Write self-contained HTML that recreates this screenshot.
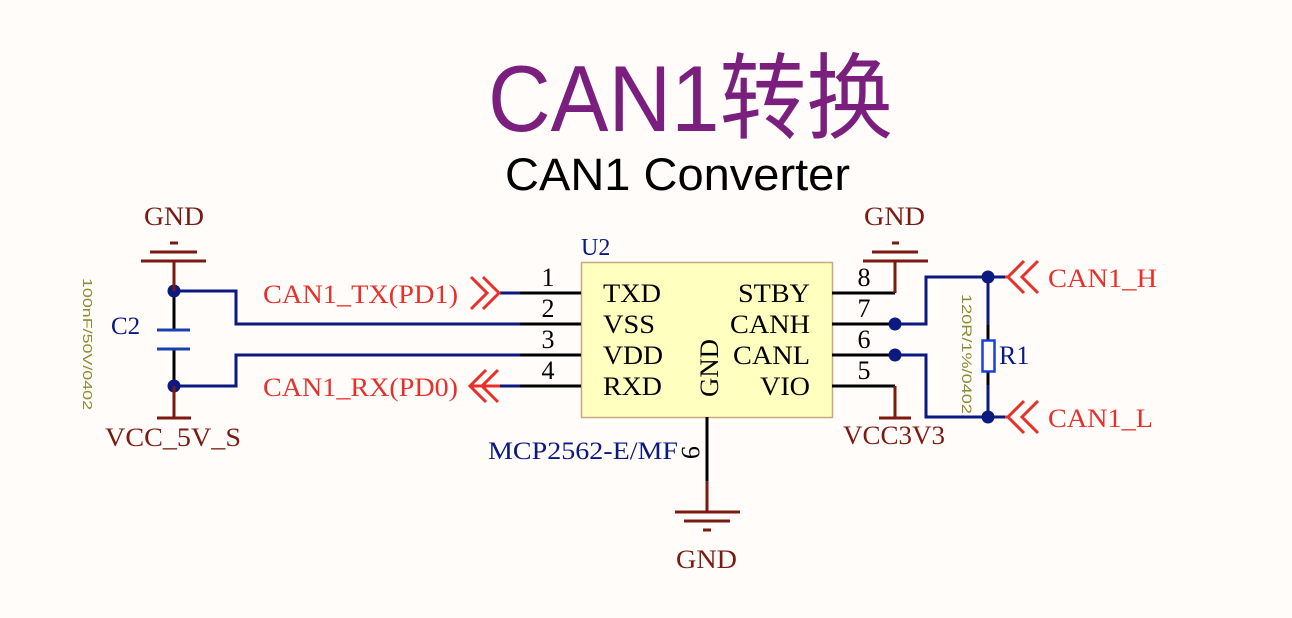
<!DOCTYPE html>
<html><head><meta charset="utf-8"><style>
html,body{margin:0;padding:0;background:#fffcf9;}
svg{display:block;}
.s{font-family:"Liberation Serif",serif;}
</style></head><body>
<svg width="1292" height="618" viewBox="0 0 1292 618" xmlns="http://www.w3.org/2000/svg">
<rect width="1292" height="618" fill="#fffcf9"/>
<text x="488" y="131" font-family="Liberation Sans,'Noto Sans CJK SC',sans-serif" font-size="94" fill="#7a1f7e" textLength="405" lengthAdjust="spacingAndGlyphs">CAN1转换</text>
<text x="505" y="190" font-family="Liberation Sans,sans-serif" font-size="45" fill="#000" textLength="345" lengthAdjust="spacingAndGlyphs">CAN1 Converter</text>

<rect x="581.5" y="262.5" width="251" height="155" fill="#ffffc0" stroke="#c9a87a" stroke-width="1.5"/>
<text x="581" y="255" class="s" fill="#0a1a80" font-size="24">U2</text>
<g class="s" fill="#000" font-size="26">
<text x="603" y="302" textLength="58" lengthAdjust="spacingAndGlyphs">TXD</text><text x="603" y="333" textLength="52" lengthAdjust="spacingAndGlyphs">VSS</text><text x="603" y="364" textLength="60" lengthAdjust="spacingAndGlyphs">VDD</text><text x="603" y="395" textLength="59" lengthAdjust="spacingAndGlyphs">RXD</text>
<text x="738" y="302" textLength="72" lengthAdjust="spacingAndGlyphs">STBY</text><text x="730" y="333" textLength="80" lengthAdjust="spacingAndGlyphs">CANH</text><text x="733" y="364" textLength="77" lengthAdjust="spacingAndGlyphs">CANL</text><text x="760" y="395" textLength="50" lengthAdjust="spacingAndGlyphs">VIO</text>
<text transform="translate(718,397) rotate(-90)" textLength="58" lengthAdjust="spacingAndGlyphs">GND</text>
<text x="548" y="286" text-anchor="middle">1</text><text x="548" y="317" text-anchor="middle">2</text><text x="548" y="348" text-anchor="middle">3</text><text x="548" y="379" text-anchor="middle">4</text>
<text x="864" y="286" text-anchor="middle">8</text><text x="864" y="317" text-anchor="middle">7</text><text x="864" y="348" text-anchor="middle">6</text><text x="864" y="379" text-anchor="middle">5</text>
<text transform="translate(682,446) rotate(90)">9</text>
</g>
<text x="488" y="459" class="s" fill="#0a1a80" font-size="25" textLength="190" lengthAdjust="spacingAndGlyphs">MCP2562-E/MF</text>

<g stroke="#000" stroke-width="3">
<line x1="520" y1="293" x2="581" y2="293"/><line x1="520" y1="324" x2="581" y2="324"/><line x1="520" y1="355" x2="581" y2="355"/><line x1="520" y1="386" x2="581" y2="386"/>
<line x1="832" y1="293" x2="895" y2="293"/><line x1="832" y1="324" x2="895" y2="324"/><line x1="832" y1="355" x2="895" y2="355"/><line x1="832" y1="386" x2="895" y2="386"/>
<line x1="707" y1="417" x2="707" y2="481"/>
<line x1="174" y1="291" x2="174" y2="330"/><line x1="174" y1="349" x2="174" y2="386"/>
<line x1="988" y1="325" x2="988" y2="340"/><line x1="988" y1="372" x2="988" y2="385"/>
</g>
<g stroke="#0a1a80" stroke-width="3" fill="none">
<line x1="500" y1="293" x2="520" y2="293"/><line x1="500" y1="386" x2="520" y2="386"/>
<polyline points="174,291 236,291 236,324 520,324"/>
<polyline points="174,386 236,386 236,355 520,355"/>
<polyline points="895,324 926,324 926,277 1005,277"/>
<polyline points="895,355 926,355 926,417 1005,417"/>
<line x1="988" y1="277" x2="988" y2="325"/><line x1="988" y1="385" x2="988" y2="417"/>
</g>
<g fill="#0a1a80">
<circle cx="174" cy="291" r="6.5"/><circle cx="174" cy="386" r="6.5"/>
<circle cx="895" cy="324" r="6.5"/><circle cx="895" cy="355" r="6.5"/>
<circle cx="988" cy="277" r="6.5"/><circle cx="988" cy="417" r="6.5"/>
</g>
<g stroke="#1a3fb0" stroke-width="3"><line x1="157" y1="330" x2="190" y2="330"/><line x1="157" y1="349" x2="190" y2="349"/></g>
<text x="111" y="334" class="s" fill="#0a1a80" font-size="25">C2</text>
<text transform="translate(83,278) rotate(90)" font-family="Liberation Sans,sans-serif" font-size="13" fill="#8a8a30" textLength="132" lengthAdjust="spacingAndGlyphs">100nF/50V/0402</text>
<rect x="982.5" y="340.5" width="12" height="31" fill="none" stroke="#1a3fdf" stroke-width="2.5"/>
<text x="999" y="364" class="s" fill="#0a1a80" font-size="26">R1</text>
<text transform="translate(962,294) rotate(90)" font-family="Liberation Sans,sans-serif" font-size="14" fill="#8a8a30" textLength="120" lengthAdjust="spacingAndGlyphs">120R/1%/0402</text>

<g stroke="#7a1a10" stroke-width="3">
<line x1="174" y1="261" x2="174" y2="291"/>
<line x1="141" y1="261" x2="206" y2="261"/><line x1="150" y1="252" x2="197" y2="252"/><line x1="170" y1="243" x2="178" y2="243"/>
<line x1="174" y1="386" x2="174" y2="418"/><line x1="157" y1="418" x2="191" y2="418"/>
<line x1="895" y1="261" x2="895" y2="293"/>
<line x1="863" y1="261" x2="928" y2="261"/><line x1="872" y1="252" x2="918" y2="252"/><line x1="892" y1="243" x2="899" y2="243"/>
<line x1="895" y1="386" x2="895" y2="418"/><line x1="879" y1="418" x2="911" y2="418"/>
<line x1="707" y1="481" x2="707" y2="512"/>
<line x1="675" y1="512" x2="740" y2="512"/><line x1="684" y1="521" x2="730" y2="521"/><line x1="703" y1="530" x2="711" y2="530"/>
</g>
<g class="s" fill="#7a1a10" font-size="26">
<text x="144" y="225" textLength="60" lengthAdjust="spacingAndGlyphs">GND</text>
<text x="864" y="225" textLength="61" lengthAdjust="spacingAndGlyphs">GND</text>
<text x="676" y="568" textLength="61" lengthAdjust="spacingAndGlyphs">GND</text>
<text x="105" y="446" textLength="136" lengthAdjust="spacingAndGlyphs">VCC_5V_S</text>
<text x="843" y="444" textLength="102" lengthAdjust="spacingAndGlyphs">VCC3V3</text>
</g>
<g class="s" fill="#e8302a" font-size="26">
<text x="263" y="303" textLength="195" lengthAdjust="spacingAndGlyphs">CAN1_TX(PD1)</text>
<text x="263" y="396" textLength="195" lengthAdjust="spacingAndGlyphs">CAN1_RX(PD0)</text>
<text x="1048" y="287" textLength="109" lengthAdjust="spacingAndGlyphs">CAN1_H</text>
<text x="1048" y="427" textLength="105" lengthAdjust="spacingAndGlyphs">CAN1_L</text>
</g>
<g stroke="#e8302a" stroke-width="3" fill="none">
<polyline points="471,277 487,293 471,309"/><polyline points="483,277 499,293 483,309"/>
<polyline points="486,370 470,386 486,402"/><polyline points="498,370 482,386 498,402"/><line x1="470" y1="386" x2="500" y2="386"/>
<polyline points="1024,261 1008,277 1024,293"/><polyline points="1038,261 1022,277 1038,293"/><line x1="1005" y1="277" x2="1010" y2="277"/>
<polyline points="1024,401 1008,417 1024,433"/><polyline points="1038,401 1022,417 1038,433"/><line x1="1005" y1="417" x2="1010" y2="417"/>
</g>
</svg>
</body></html>
